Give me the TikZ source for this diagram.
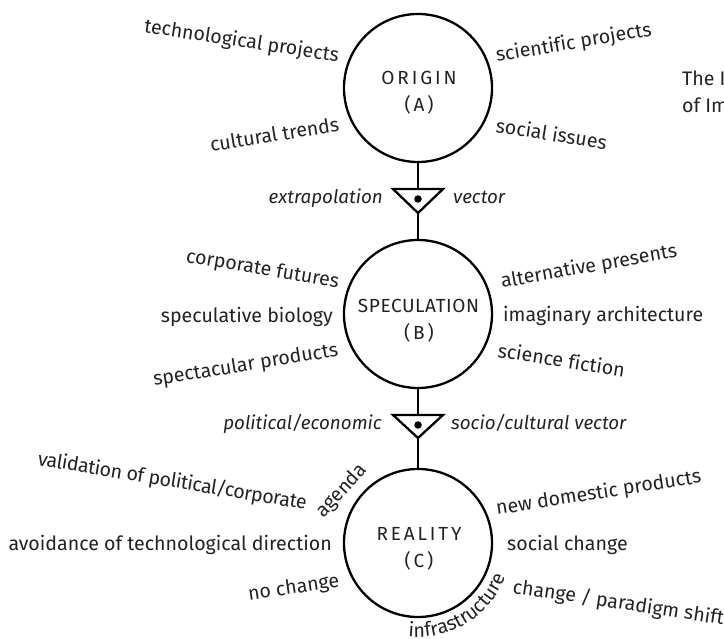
\documentclass[tikz,border=0pt]{standalone}
\usepackage{fontspec}
\setmainfont{Fira Sans}[Ligatures=NoCommon]
\newfontfamily\capsfont[LetterSpace=15]{Fira Sans}
\newfontfamily\capsfontb[LetterSpace=3]{Fira Sans}
\newfontfamily\tightfont[LetterSpace=-2.2,Ligatures=NoCommon]{Fira Sans}
\usetikzlibrary{decorations.text}
\definecolor{ink}{HTML}{222222}
\begin{document}
\begin{tikzpicture}[x=1pt,y=1pt,
  lbl/.style={inner sep=0pt, text=ink, font=\fontsize{19.6}{22}\selectfont},
  ilbl/.style={inner sep=0pt, text=ink, font=\fontsize{18.8}{22}\selectfont\itshape},
  stage/.style={circle, draw=black, line width=2.3pt, minimum size=148pt, inner sep=0pt},
  stagetext/.style={inner sep=0pt, anchor=base, text=ink, font=\capsfont\fontsize{19}{22}\selectfont},
  conn/.style={line width=2.3pt, black},
  vec/.style={line width=2.3pt, black, line join=miter},
  vdot/.style={circle, fill=black, minimum size=7.5pt, inner sep=0pt},
]
\useasboundingbox (0,0) rectangle (724,-639);

% stages
\node[stage] (A) at (418,-88) {};
\node[stage] (B) at (418,-314) {};
\node[stage] (C) at (418,-543) {};
\node[stagetext] (At) at (419,-85) {ORIGIN};
\node[stagetext] (Ab) at (419,-112) {(A)};
\node[stagetext, font=\capsfontb\fontsize{19}{22}\selectfont] (Bt) at (418.5,-313) {SPECULATION};
\node[stagetext] (Bb) at (419,-340) {(B)};
\node[stagetext] (Ct) at (419,-540) {REALITY};
\node[stagetext] (Cb) at (419,-567) {(C)};

% vectors
\coordinate (v1l) at (393,-189);
\coordinate (v1r) at (443,-189);
\coordinate (v1top) at (418,-189);
\coordinate (v1apex) at (418,-213);
\node[vdot] (v1dot) at (418,-199) {};
\draw[vec] (v1l) -- (v1r) -- (v1apex) -- cycle;
\draw[conn] (A) -- (v1top);
\draw[conn] (v1apex) -- (B);

\coordinate (v2l) at (393,-415);
\coordinate (v2r) at (443,-415);
\coordinate (v2top) at (418,-415);
\coordinate (v2apex) at (418,-438);
\node[vdot] (v2dot) at (418,-425) {};
\draw[vec] (v2l) -- (v2r) -- (v2apex) -- cycle;
\draw[conn] (B) -- (v2top);
\draw[conn] (v2apex) -- (C);

% vector labels
\node[ilbl, anchor=base east] (e1) at (383,-204) {extrapolation};
\node[ilbl, anchor=base west] (e2) at (453,-204) {vector};
\node[ilbl, anchor=base east] (e3) at (382,-430) {political/economic};
\node[ilbl, anchor=base west] (e4) at (451,-430) {socio/cultural vector};

% origin labels
\node[lbl, anchor=base east, rotate=-8.7] (a1) at (338,-62) {technological projects};
\node[lbl, anchor=base east, rotate=9.2] (a2) at (340,-131) {cultural trends};
\node[lbl, anchor=base west, rotate=9.7] (a3) at (497,-62) {scientific projects};
\node[lbl, anchor=base west, rotate=-9.1] (a4) at (495,-132) {social issues};

% speculation labels
\node[lbl, anchor=base east, rotate=-9.6] (b1) at (338,-288) {corporate futures};
\node[lbl, anchor=base east] (b2) at (333,-323) {speculative biology};
\node[lbl, anchor=base east, rotate=9.2] (b3) at (339,-356) {spectacular products};
\node[lbl, anchor=base west, rotate=10] (b4) at (502,-288) {alternative presents};
\node[lbl, anchor=base west] (b5) at (503,-322) {imaginary architecture};
\node[lbl, anchor=base west, rotate=-9] (b6) at (497,-357) {science fiction};

% reality labels
\node[lbl, anchor=base west, rotate=-9.4, font=\tightfont\fontsize{19.6}{22}\selectfont] (c1) at (37,-465) {validation of political/corporate};
\path[decorate, decoration={text along path, text align={left},
  text={|\fontsize{19.6}{22}\selectfont\color{ink}|agenda}}]
  (323,-518) .. controls (339,-503) and (357,-483) .. (384,-452);
\node[lbl, anchor=base east] (c2) at (332,-550) {avoidance of technological direction};
\node[lbl, anchor=base east, rotate=8.2] (c3) at (340,-587) {no change};
\node[lbl, anchor=base west, rotate=9] (c4) at (497,-515) {new domestic products};
\node[lbl, anchor=base west] (c5) at (507,-550) {social change};
\coordinate (cc) at (418,-543);
\path[decorate, decoration={text along path, text align={left},
  text={|\fontsize{19.6}{22}\selectfont\color{ink}|infrastructure}}]
  (cc) ++(-96:94) arc[start angle=-96, end angle=-20, radius=94];
\node[lbl, anchor=base west, rotate=-8.6] (c6) at (512,-593) {change / paradigm shift};

% cut-off title
\node[lbl, anchor=base west] (t1) at (682,-86) {The I};
\node[lbl, anchor=base west] (t2) at (682,-113) {of Im};
\end{tikzpicture}
\end{document}
